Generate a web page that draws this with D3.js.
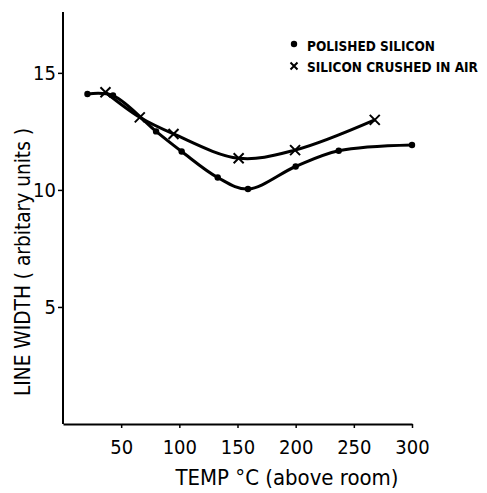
<!DOCTYPE html>
<html><head><meta charset="utf-8">
<script src="https://cdn.jsdelivr.net/npm/d3@7"></script>
<style>body{margin:0;background:#fff}svg{display:block}</style>
</head><body>
<svg id="c" width="487" height="493"></svg>
<script>
const polishedTemp = [21, 43, 80, 102, 133, 159, 200, 237, 300];
const polishedWidth = [14.1, 14.03, 12.5, 11.64, 10.53, 10.04, 11.0, 11.67, 11.92];
const crushedTemp = [36.5, 66, 95, 151, 199.5, 268];
const crushedWidth = [14.17, 13.1, 12.39, 11.35, 11.7, 12.99];
const xTicks = [50, 100, 150, 200, 250, 300];
const yTicks = [5, 10, 15];
const legendLabels = ["POLISHED SILICON", "SILICON CRUSHED IN AIR"];

const font = "'DejaVu Sans Condensed','Liberation Sans Narrow','Liberation Sans',sans-serif";
const svg = d3.select("#c");
const x = d3.scaleLinear().domain([0, 300]).range([63, 412]);
const y = d3.scaleLinear().domain([0, 17.6]).range([424, 12]);

const g = svg.append("g").attr("font-family", font);

// axes
const xa = g.append("g").attr("transform", "translate(0,424)")
  .call(d3.axisBottom(x).tickValues(xTicks).tickSize(4).tickPadding(12).tickSizeOuter(0));
const ya = g.append("g").attr("transform", "translate(63,0)")
  .call(d3.axisLeft(y).tickValues(yTicks).tickSize(5).tickPadding(2).tickSizeOuter(0));
[xa, ya].forEach(a => {
  a.select(".domain").attr("stroke", "#000").attr("stroke-width", 2);
  a.selectAll(".tick line").attr("stroke", "#000").attr("stroke-width", 1.5);
  a.selectAll(".tick text").attr("font-family", font).attr("font-size", 20).attr("fill", "#000");
});
ya.select(".domain").attr("d", `M0,${y(0)}V${y(17.6)}`);

// titles
g.append("text").attr("x", 287).attr("y", 485).attr("text-anchor", "middle")
  .attr("font-size", 21).attr("textLength", 223).attr("lengthAdjust", "spacingAndGlyphs")
  .text("TEMP  \u00B0C (above  room)");
g.append("text").attr("transform", "translate(30,262) rotate(-90)").attr("text-anchor", "middle")
  .attr("font-size", 21).attr("textLength", 268).attr("lengthAdjust", "spacingAndGlyphs")
  .text("LINE WIDTH ( arbitary units )");

// lines
const line = d3.line().x(d => x(d[0])).y(d => y(d[1])).curve(d3.curveCatmullRom.alpha(0.5));
const pData = polishedTemp.map((t, i) => [t, polishedWidth[i]]);
const cData = crushedTemp.map((t, i) => [t, crushedWidth[i]]);
g.append("path").datum(pData).attr("d", line).attr("fill", "none").attr("stroke", "#000").attr("stroke-width", 3);
g.append("path").datum(cData).attr("d", line).attr("fill", "none").attr("stroke", "#000").attr("stroke-width", 3);

g.selectAll(".dot").data(pData).enter().append("circle")
  .attr("cx", d => x(d[0])).attr("cy", d => y(d[1])).attr("r", 3.2).attr("fill", "#000");
const cross = (sel, s) => sel.append("path")
  .attr("d", `M${-s},${-s}L${s},${s}M${-s},${s}L${s},${-s}`)
  .attr("stroke", "#000").attr("stroke-width", 2).attr("fill", "none");
cData.forEach(d => {
  const gg = g.append("g").attr("transform", `translate(${x(d[0])},${y(d[1])})`);
  cross(gg, 5);
});

// legend
g.append("circle").attr("cx", 294).attr("cy", 44).attr("r", 3.2).attr("fill", "#000");
const lc = g.append("g").attr("transform", "translate(294,66)");
cross(lc, 3.5);
g.append("text").attr("x", 307).attr("y", 50.5).attr("font-size", 13.5).attr("font-weight", "bold")
  .text(legendLabels[0]);
g.append("text").attr("x", 307).attr("y", 72).attr("font-size", 13.5).attr("font-weight", "bold")
  .text(legendLabels[1]);
</script>
</body></html>
